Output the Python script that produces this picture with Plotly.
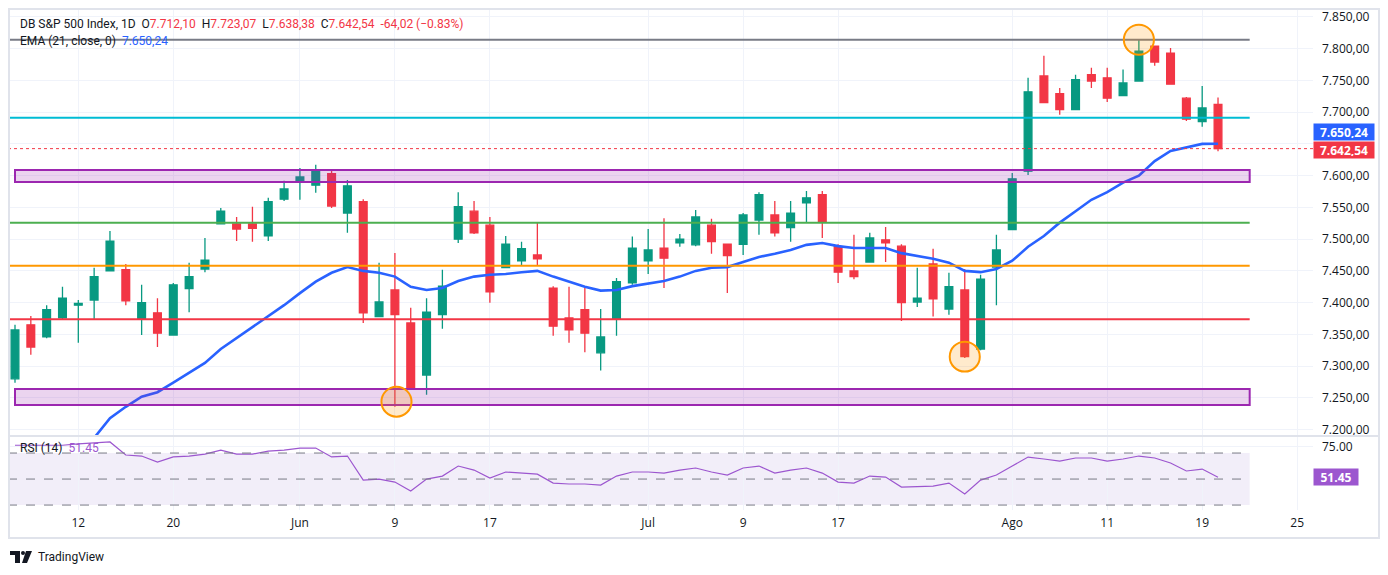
import plotly.graph_objects as go
from plotly.subplots import make_subplots

# daily bars, bar 0 = 6 May
opens = [7280, 7365, 7346, 7376, 7396, 7404, 7450, 7452, 7374, 7384,
         7349, 7422, 7453, 7524, 7524, 7524, 7505, 7563, 7590, 7585,
         7603, 7541, 7559, 7378, 7420, 7368, 7286, 7381, 7500, 7544,
         7522, 7455, 7466, 7475, 7423, 7376, 7389, 7321, 7374, 7431,
         7466, 7486, 7494, 7491, 7522, 7492, 7492, 7530, 7538, 7518,
         7557, 7570, 7488, 7450, 7464, 7499, 7489, 7401, 7461, 7390,
         7420, 7327, 7456, 7515, 7607, 7757, 7729, 7704, 7759, 7754,
         7726, 7749, 7804, 7793, 7722, 7685, 7712.10]
highs = [7365, 7379, 7396, 7425, 7404, 7455, 7513, 7461, 7428, 7407,
         7431, 7463, 7502, 7549, 7535, 7551, 7565, 7592, 7612, 7617,
         7609, 7593, 7563, 7463, 7478, 7392, 7407, 7452, 7574, 7560,
         7535, 7505, 7496, 7527, 7426, 7425, 7423, 7390, 7439, 7504,
         7516, 7533, 7508, 7546, 7532, 7492, 7541, 7574, 7560, 7560,
         7576, 7576, 7492, 7507, 7510, 7519, 7492, 7455, 7485, 7447,
         7453, 7444, 7507, 7604, 7754, 7789, 7738, 7759, 7770, 7770,
         7767, 7814, 7805, 7801, 7724, 7741, 7723.07]
lows = [7274, 7318, 7344, 7374, 7337, 7374, 7449, 7396, 7349, 7330,
        7349, 7385, 7448, 7523, 7497, 7496, 7497, 7560, 7562, 7573,
        7549, 7510, 7368, 7377, 7236, 7264, 7255, 7359, 7494, 7508,
        7400, 7454, 7458, 7458, 7348, 7337, 7322, 7293, 7348, 7428,
        7445, 7423, 7488, 7489, 7477, 7415, 7475, 7507, 7504, 7496,
        7526, 7502, 7431, 7437, 7463, 7464, 7371, 7393, 7378, 7381,
        7313, 7325, 7396, 7514, 7601, 7714, 7696, 7704, 7738, 7716,
        7725, 7748, 7773, 7743, 7686, 7677, 7638.38]
closes = [7357, 7330, 7389, 7407, 7399, 7441, 7497, 7403, 7400, 7352,
          7428, 7441, 7467, 7544, 7516, 7517, 7559, 7579, 7598, 7607,
          7552, 7584, 7384, 7401, 7381, 7264, 7385, 7426, 7551, 7510,
          7417, 7492, 7485, 7469, 7363, 7357, 7352, 7346, 7433, 7486,
          7483, 7470, 7500, 7535, 7496, 7474, 7538, 7570, 7510, 7541,
          7565, 7527, 7448, 7441, 7502, 7494, 7400, 7407, 7406, 7425,
          7315, 7437, 7483, 7595, 7732, 7715, 7704, 7751, 7749, 7722,
          7746, 7796, 7779, 7744, 7689, 7706.56, 7642.54]
ema21 = [None, None, None, None, 7170, 7187, 7218, 7236, 7252, 7259,
         7274, 7289, 7305, 7327, 7344, 7362, 7379, 7396, 7415, 7433,
         7447, 7456, 7450, 7447, 7441, 7425, 7420, 7423, 7434, 7441,
         7444, 7445, 7448, 7450, 7441, 7433, 7425, 7419, 7420, 7426,
         7430, 7434, 7441, 7450, 7455, 7456, 7464, 7472, 7477, 7483,
         7491, 7494, 7489, 7486, 7486, 7486, 7478, 7474, 7469, 7463,
         7450, 7448, 7453, 7466, 7488, 7505, 7526, 7544, 7562, 7574,
         7589, 7600, 7623, 7639, 7644, 7650, 7650.24]
rsi14 = [76, 76, 76, 76, 77, 77.7, 78.5, 68.5, 67.7, 63,
         67, 67.7, 69.2, 72.3, 69.2, 69.2, 71.5, 72.3, 73.8, 73.8,
         67, 67.7, 49.2, 50, 47.7, 40.8, 50, 52.3, 60, 56.9,
         50.8, 55.4, 54.6, 53.8, 46.9, 46.2, 46.2, 45.4, 52.3, 55.4,
         55.4, 54.6, 56.9, 58.5, 55.4, 53.1, 58.5, 60, 54.6, 56.9,
         58.5, 54.6, 47.7, 46.9, 52.3, 51.5, 43.8, 44.2, 44.6, 46.9,
         38.5, 49.2, 53.1, 60, 66.9, 65.4, 63.8, 66.2, 66.2, 63.8,
         65.4, 67.7, 66.2, 62.3, 56.2, 57.7, 51.45]

tick_pos = [4, 10, 18, 24, 30, 40, 46, 52, 63, 69, 75, 81]
tick_text = ["12", "20", "Jun", "9", "17", "Jul", "9", "17", "Ago", "11", "19", "25"]

price_ticks = [7200, 7250, 7300, 7350, 7400, 7450, 7500, 7550, 7600, 7650, 7700, 7750, 7800, 7850]
hidden_ticks = [7650]   # covered by the last-value labels

# drawn levels
level_prices = [7814, 7691, 7526, 7458, 7374]
level_colors = ["#787B86", "#00BCD4", "#4CAF50", "#FF9800", "#F23645"]
zones = [(7590, 7609), (7239, 7264)]
circle_idx = [24.1, 60, 71]
circle_price = [7244, 7315, 7814]

GREEN = "#089981"
RED = "#F23645"
BLUE = "#2962FF"
PURPLE = "#9C56CF"
TXT = "#131722"
GRID = "#F0F3FA"
FONT = "Roboto"
AXFONT = "Open Sans"


def fmt_price(v):
    s = f"{v:,.2f}"
    return s.replace(",", "X").replace(".", ",").replace("X", ".")


bars = list(range(len(closes)))
last_close = closes[-1]
change = last_close - closes[-2]
change_pct = change / closes[-2] * 100

fig = make_subplots(rows=2, cols=1, shared_xaxes=True, vertical_spacing=0)

fig.add_trace(go.Candlestick(
    x=bars, open=opens, high=highs, low=lows, close=closes,
    increasing=dict(line=dict(color=GREEN, width=1.3), fillcolor=GREEN),
    decreasing=dict(line=dict(color=RED, width=1.3), fillcolor=RED),
    whiskerwidth=0, showlegend=False, hoverinfo="skip"), row=1, col=1)

fig.add_trace(go.Scatter(x=bars, y=ema21, mode="lines",
                         line=dict(color=BLUE, width=2.6),
                         showlegend=False, hoverinfo="skip"), row=1, col=1)

fig.add_trace(go.Scatter(x=bars, y=rsi14, mode="lines",
                         line=dict(color=PURPLE, width=1.2),
                         showlegend=False, hoverinfo="skip"), row=2, col=1)

# the page body adds 8px, so the figure starts at screen (8, 8)
OFF = 8
W, H = 1388 - 2 * OFF, 575 - 2 * OFF
plot_l, plot_r, plot_t, plot_b = 8, 1313, 8, 510   # screen pixels
ml, mt = plot_l - OFF, plot_t - OFF
mr = W - (plot_r - OFF)
mb = H - (plot_b - OFF)
pw = plot_r - plot_l
ph = plot_b - plot_t


def px(x):
    return (x - plot_l) / pw


def py(y):
    return (plot_b - y) / ph


split = py(436)
x_lo, x_hi = -0.442, 82.0

shapes = []
# RSI band
shapes.append(dict(type="rect", xref="x2", yref="y2", x0=x_lo, x1=78, y0=30, y1=70,
                   fillcolor="rgba(126,87,194,0.1)", line=dict(width=0), layer="below"))
for lv in (70, 50, 30):
    shapes.append(dict(type="line", xref="x2", yref="y2", x0=x_lo, x1=78, y0=lv, y1=lv,
                       line=dict(color="#787B86", width=1, dash="dash")))
# levels
for p, c in zip(level_prices, level_colors):
    shapes.append(dict(type="line", xref="x", yref="y", x0=x_lo, x1=78, y0=p, y1=p,
                       line=dict(color=c, width=2), layer="above"))
for lo, hi in zones:
    shapes.append(dict(type="rect", xref="x", yref="y", x0=0, x1=78, y0=lo, y1=hi,
                       fillcolor="rgba(156,39,176,0.2)", line=dict(color="#9C27B0", width=2),
                       layer="above"))
for ci, cp in zip(circle_idx, circle_price):
    shapes.append(dict(type="circle", xref="x", yref="y", x0=ci - 0.95, x1=ci + 0.95,
                       y0=cp - 23.6, y1=cp + 23.6,
                       fillcolor="rgba(255,152,0,0.2)", line=dict(color="#FF9800", width=2),
                       layer="above"))
# last price dotted line
shapes.append(dict(type="line", xref="x", yref="y", x0=x_lo, x1=x_hi, y0=last_close, y1=last_close,
                   line=dict(color=RED, width=1, dash="dot")))
# pane separator and frame
shapes.append(dict(type="line", xref="paper", yref="paper", x0=0, x1=px(1380), y0=split, y1=split,
                   line=dict(color="#E0E3EB", width=2)))
shapes.append(dict(type="rect", xref="paper", yref="paper", x0=px(9), x1=px(1379),
                   y0=py(538), y1=py(9), line=dict(color="#E0E3EB", width=2)))
# logo
shapes.append(dict(type="path", xref="paper", yref="paper",
                   path=f"M {px(10)},{py(551)} L {px(20)},{py(551)} L {px(20)},{py(563)} "
                        f"L {px(15)},{py(563)} L {px(15)},{py(555)} L {px(10)},{py(555)} Z",
                   fillcolor=TXT, line=dict(width=0)))
shapes.append(dict(type="circle", xref="paper", yref="paper", x0=px(21), x1=px(25),
                   y0=py(555), y1=py(551), fillcolor=TXT, line=dict(width=0)))
shapes.append(dict(type="path", xref="paper", yref="paper",
                   path=f"M {px(26)},{py(551)} L {px(32)},{py(551)} L {px(27)},{py(563)} "
                        f"L {px(22)},{py(563)} Z",
                   fillcolor=TXT, line=dict(width=0)))

sp = "\u00a0"


def span(t, c):
    return f"<span style='color:{c}'>{t}</span>"


chg_txt = ("-" if change < 0 else "+") + f"{abs(change):.2f}".replace(".", ",")
pct_txt = ("\u2212" if change < 0 else "+") + f"{abs(change_pct):.2f}%"
head = ("DB S&P 500 Index, 1D" + sp * 2 +
        "O" + span(fmt_price(opens[-1]), RED) + sp * 2 +
        "H" + span(fmt_price(highs[-1]), RED) + sp * 2 +
        "L" + span(fmt_price(lows[-1]), RED) + sp * 2 +
        "C" + span(fmt_price(last_close), RED) + sp * 2 +
        span(chg_txt + " (" + pct_txt + ")", RED))

annotations = [
    dict(text=head, xref="paper", yref="paper", x=px(18), y=py(24), xanchor="left",
         yanchor="middle", showarrow=False, font=dict(size=12, color=TXT, family=FONT)),
    dict(text="EMA (21, close, 0)" + sp * 2 + span(fmt_price(ema21[-1]), BLUE),
         xref="paper", yref="paper", x=px(18), y=py(41), xanchor="left",
         yanchor="middle", showarrow=False, font=dict(size=12, color=TXT, family=FONT)),
    dict(text="RSI (14)" + sp * 2 + span(f"{rsi14[-1]:.2f}", PURPLE),
         xref="paper", yref="paper", x=px(18), y=py(448), xanchor="left",
         yanchor="middle", showarrow=False, font=dict(size=12, color=TXT, family=FONT)),
    dict(text=f"<b>{fmt_price(ema21[-1])}</b>", xref="paper", yref="y", x=1.0, y=ema21[-1],
         yshift=11.5, xanchor="left", yanchor="middle", showarrow=False, bgcolor=BLUE,
         width=56, height=12, borderpad=2, font=dict(size=12, color="white", family=AXFONT)),
    dict(text=f"<b>{fmt_price(last_close)}</b>", xref="paper", yref="y", x=1.0, y=last_close,
         yshift=-1.5, xanchor="left", yanchor="middle", showarrow=False, bgcolor=RED,
         width=56, height=12, borderpad=2, font=dict(size=12, color="white", family=AXFONT)),
    dict(text=f"<b>{rsi14[-1]:.2f}</b>", xref="paper", yref="y2", x=1.0, y=rsi14[-1],
         xanchor="left", yanchor="middle", showarrow=False, bgcolor=PURPLE,
         width=40, height=12, borderpad=2, font=dict(size=12, color="white", family=AXFONT)),
    dict(text="TradingView", xref="paper", yref="paper", x=px(36), y=py(557),
         xanchor="left", yanchor="middle", showarrow=False,
         font=dict(size=12, color=TXT, family=FONT)),
]

fig.update_layout(
    width=W, height=H,
    margin=dict(l=ml, r=mr, t=mt, b=mb, pad=0),
    paper_bgcolor="white", plot_bgcolor="white",
    font=dict(family=FONT, size=12, color=TXT),
    showlegend=False,
    shapes=shapes, annotations=annotations,
    xaxis=dict(range=[x_lo, x_hi], rangeslider=dict(visible=False), tickvals=tick_pos,
               showticklabels=False, showgrid=True, gridcolor=GRID, zeroline=False,
               showline=False),
    xaxis2=dict(range=[x_lo, x_hi], tickvals=tick_pos, ticktext=tick_text, showgrid=True,
                gridcolor=GRID, zeroline=False, showline=False, ticks="", ticklabelstandoff=4,
                tickfont=dict(size=12, color=TXT, family=AXFONT)),
    yaxis=dict(domain=[split, 1], range=[7190, 7864], side="right", tickvals=price_ticks,
               ticktext=["" if v in hidden_ticks else fmt_price(v) for v in price_ticks],
               showgrid=True, gridcolor=GRID,
               zeroline=False, showline=False, ticks="", ticklabelstandoff=8,
               tickfont=dict(size=12, color=TXT, family=AXFONT)),
    yaxis2=dict(domain=[0, split], range=[26.2, 83.1], side="right", tickvals=[75],
                ticktext=["75.00"], showgrid=True, gridcolor=GRID, zeroline=False,
                showline=False, ticks="", ticklabelstandoff=8,
                tickfont=dict(size=12, color=TXT, family=AXFONT)),
)

fig.write_html("out.html")
